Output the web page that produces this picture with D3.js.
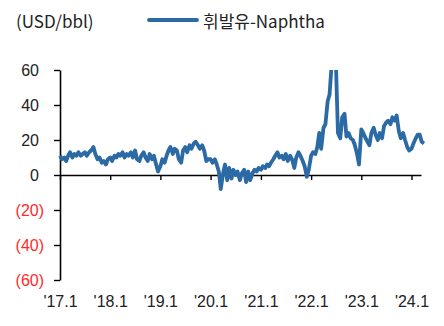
<!DOCTYPE html>
<html>
<head>
<meta charset="utf-8">
<script src="https://cdn.jsdelivr.net/npm/d3@7"></script>
<style>
  html, body { margin: 0; padding: 0; background: #fff; }
  svg { display: block; font-family: "Noto Sans CJK KR", "Noto Sans", sans-serif; }
</style>
</head>
<body>
<svg id="chart" width="444" height="326"></svg>
<script>
// Semi-monthly spread (1st and 15th of each month), USD/bbl
const startYear = 2017;
const spread2017 = [11, 9, 10, 8, 11, 13, 10, 12, 11, 13, 11, 12, 13, 11, 13, 14, 16, 12, 9, 10, 7, 8, 6, 9];
const spread2018 = [10, 8, 11, 10, 12, 11, 13, 10, 12, 11, 13, 10, 14, 9, 8, 11, 13, 10, 8, 12, 9, 11, 6, 2];
const spread2019 = [5, 9, 7, 11, 14, 16, 12, 15, 14, 9, 7, 14, 16, 13, 17, 15, 18, 19, 17, 15, 17, 14, 8, 9];
const spread2020 = [9, 7, 9, 6, 2, -8, 1, 6, -3, 4, -2, 3, 0, 2, -3, 1, 3, -4, 2, -3, 1, 3, 2, 4];
const spread2021 = [3, 5, 4, 6, 5, 7, 9, 11, 13, 10, 11, 9, 12, 8, 11, 9, 4, 10, 13, 11, 8, 5, -1, 3];
const spread2022 = [11, 13, 12, 16, 24, 15, 27, 29, 42, 46, 65, 75, 62, 24, 21, 33, 35, 22, 24, 21, 20, 17, 12, 6];
const spread2023 = [26, 24, 21, 19, 17, 24, 27, 23, 20, 24, 21, 28, 30, 31, 29, 33, 31, 34, 25, 21, 24, 20, 16, 14];
const spread2024 = [15, 18, 21, 23, 23, 19, 18];

const seriesName = "휘발유-Naphtha";
const unitLabel = "(USD/bbl)";
const yTicks = [-60, -40, -20, 0, 20, 40, 60];
const xTickYears = [2017, 2018, 2019, 2020, 2021, 2022, 2023, 2024];

// Build dated records from the yearly arrays
const yearly = [spread2017, spread2018, spread2019, spread2020, spread2021, spread2022, spread2023, spread2024];
const data = [];
yearly.forEach((vals, yi) => {
  vals.forEach((v, k) => {
    const month = Math.floor(k / 2);
    const day = k % 2 === 0 ? 1 : 15;
    data.push({ date: new Date(startYear + yi, month, day), value: v });
  });
});

const svg = d3.select("#chart");
const plot = { left: 60, right: 421, top: 70, bottom: 280 };
const lineColor = "#2c6aa6";

const x = d3.scaleTime()
  .domain([new Date(2017, 0, 1), new Date(2024, 2, 10)])
  .range([plot.left, plot.right]);
const y = d3.scaleLinear()
  .domain([-60, 60])
  .range([plot.bottom, plot.top]);

const fmt = v => v < 0 ? `(${Math.abs(v)})` : `${v}`;

// Y axis; positive labels leave room for the closing parenthesis
const yAxis = svg.append("g")
  .attr("transform", `translate(${plot.left},0)`)
  .call(d3.axisLeft(y).tickValues(yTicks).tickSize(6).tickSizeOuter(0).tickPadding(5).tickFormat(fmt));
yAxis.select(".domain").attr("stroke", "#000").attr("stroke-width", 1.6);
yAxis.selectAll(".tick line").attr("stroke", "#000").attr("stroke-width", 1.4);
yAxis.selectAll(".tick text")
  .attr("font-size", 16)
  .attr("fill", d => d < 0 ? "#ff2a2a" : "#222")
  .attr("dx", d => d < 0 ? -5 : -10);

// X axis along the zero line
const xAxis = svg.append("g")
  .attr("transform", `translate(0,${y(0)})`)
  .call(d3.axisBottom(x)
    .tickValues(xTickYears.map(yr => new Date(yr, 0, 1)))
    .tickSize(5).tickSizeOuter(0)
    .tickFormat(d => `'${String(d.getFullYear()).slice(2)}.1`));
xAxis.select(".domain").attr("stroke", "#000").attr("stroke-width", 1.6);
xAxis.selectAll(".tick line").attr("stroke", "#000").attr("stroke-width", 1.4);
xAxis.selectAll(".tick text")
  .attr("font-size", 16)
  .attr("fill", "#222")
  .attr("y", y(-60) - y(0) + 16);

// Clip the series to the plotted value range
svg.append("clipPath").attr("id", "plot-clip")
  .append("rect")
  .attr("x", plot.left - 5).attr("y", plot.top)
  .attr("width", plot.right - plot.left + 20).attr("height", plot.bottom - plot.top);

const line = d3.line()
  .x(d => x(d.date))
  .y(d => y(d.value));

svg.append("path")
  .datum(data)
  .attr("clip-path", "url(#plot-clip)")
  .attr("fill", "none")
  .attr("stroke", lineColor)
  .attr("stroke-width", 3.8)
  .attr("stroke-linejoin", "round")
  .attr("d", line);

// Unit label and legend
svg.append("text")
  .attr("x", 16).attr("y", 20)
  .attr("dominant-baseline", "central")
  .attr("font-size", 17).attr("fill", "#222")
  .text(unitLabel);

svg.append("line")
  .attr("x1", 149).attr("x2", 197)
  .attr("y1", 20).attr("y2", 20)
  .attr("stroke", lineColor).attr("stroke-width", 3.8)
  .attr("stroke-linecap", "round");
svg.append("text")
  .attr("x", 203).attr("y", 20)
  .attr("dominant-baseline", "central")
  .attr("font-size", 17).attr("fill", "#222")
  .text(seriesName);
</script>
</body>
</html>
